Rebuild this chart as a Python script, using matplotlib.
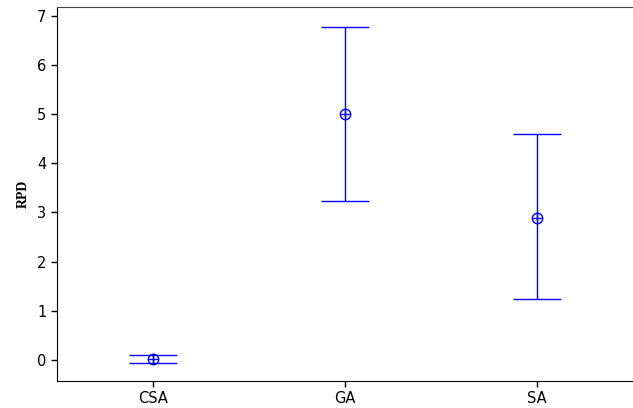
import matplotlib
matplotlib.use("Agg")
import matplotlib.pyplot as plt

# data
methods = ["CSA", "GA", "SA"]
rpd_mean = [0.02, 5.0, 2.89]
rpd_low = [-0.06, 3.24, 1.24]
rpd_high = [0.10, 6.78, 4.60]

fig = plt.figure(figsize=(6.33, 4.08), dpi=100)
ax = fig.add_axes([0.090, 0.066, 0.910, 0.917])

xs = list(range(len(methods)))
err_lo = [m - lo for m, lo in zip(rpd_mean, rpd_low)]
err_hi = [hi - m for m, hi in zip(rpd_mean, rpd_high)]

ax.errorbar(xs, rpd_mean, yerr=[err_lo, err_hi], fmt="o", color="blue",
            mfc="none", mec="blue", ms=7.5, mew=1, elinewidth=1,
            capsize=17, capthick=1, ecolor="blue")
ax.plot(xs, rpd_mean, "+", color="blue", ms=7.5, mew=1)

ax.set_xlim(-0.5, 2.5)
ax.set_ylim(-0.43, 7.18)
ax.set_xticks(xs)
ax.set_xticklabels(methods)
ax.set_yticks(range(0, 8))
ax.tick_params(labelsize=10.5, length=4, width=1)

ax.spines["right"].set_visible(False)
ax.spines["top"].set_color("#444444")
for s in ("left", "bottom"):
    ax.spines[s].set_color("black")

ax.set_ylabel("RPD", family="Liberation Serif", fontweight="bold",
              fontsize=10, labelpad=5)

fig.savefig("out.png", dpi=100)
